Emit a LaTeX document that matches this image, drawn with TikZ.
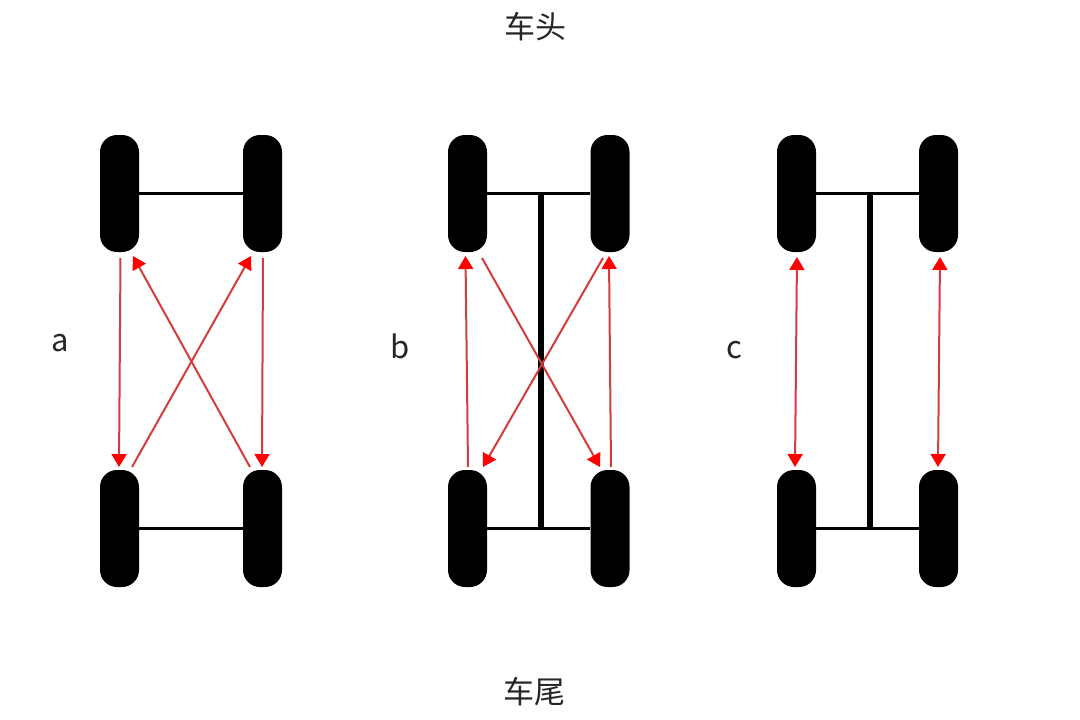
\documentclass[tikz,border=0pt]{standalone}
\usepackage{fontspec}
\setmainfont{Noto Sans CJK SC}
\usetikzlibrary{arrows.meta}
\definecolor{linkred}{RGB}{212,60,64}
\tikzset{
  wheel/.style={draw=none,fill=black,rectangle,minimum width=39pt,minimum height=117pt,inner sep=0pt,rounded corners=17pt},
  axle/.style={draw=black,line width=2.8pt},
  shaft/.style={draw=black,line width=5.5pt},
  link/.style={draw=linkred,line width=2pt,-{Triangle[width=15pt,length=13pt,color=red,fill=red]}},
  duallink/.style={draw=linkred,line width=2pt,{Triangle[width=15pt,length=13pt,color=red,fill=red]}-{Triangle[width=15pt,length=13pt,color=red,fill=red]}},
  lab/.style={inner sep=0pt,font=\fontsize{31pt}{34pt}\selectfont,text=black!85}
}
\begin{document}
\begin{tikzpicture}[x=1pt,y=-1pt]
\useasboundingbox (0,0) rectangle (1080,720);
\fill[white] (0,0) rectangle (1080,720);
% wheels
\node[wheel] (aFL) at (119.5,193.5) {};
\node[wheel] (aFR) at (262.5,193.5) {};
\node[wheel] (aRL) at (119.5,528.5) {};
\node[wheel] (aRR) at (262.5,528.5) {};
\node[wheel] (bFL) at (467.5,193.5) {};
\node[wheel] (bFR) at (610,193.5) {};
\node[wheel] (bRL) at (467.5,528.5) {};
\node[wheel] (bRR) at (610,528.5) {};
\node[wheel] (cFL) at (796.5,193.5) {};
\node[wheel] (cFR) at (938.5,193.5) {};
\node[wheel] (cRL) at (796.5,528.5) {};
\node[wheel] (cRR) at (938.5,528.5) {};
% axles
\draw[axle] (aFL.east) -- (aFR.west);
\draw[axle] (aRL.east) -- (aRR.west);
\draw[axle] (bFL.east) -- (bFR.west);
\draw[axle] (bRL.east) -- (bRR.west);
\draw[axle] (cFL.east) -- (cFR.west);
\draw[axle] (cRL.east) -- (cRR.west);
% shafts
\coordinate (bST) at (541,193.5);
\coordinate (bSB) at (541,528.5);
\coordinate (cST) at (870,193.5);
\coordinate (cSB) at (870,528.5);
\draw[shaft] (bST) -- (bSB);
\draw[shaft] (cST) -- (cSB);
% link ends: a
\coordinate (a1s) at (120.5,258); \coordinate (a1e) at (119,467);
\coordinate (a2s) at (250,467);   \coordinate (a2e) at (133,256);
\coordinate (a3s) at (132,467);   \coordinate (a3e) at (251,256);
\coordinate (a4s) at (263,258);   \coordinate (a4e) at (262,467);
\draw[link] (a1s) -- (a1e);
\draw[link] (a2s) -- (a2e);
\draw[link] (a3s) -- (a3e);
\draw[link] (a4s) -- (a4e);
% link ends: b
\coordinate (b1s) at (468,467);   \coordinate (b1e) at (465.5,256);
\coordinate (b2s) at (482,258);   \coordinate (b2e) at (600,467);
\coordinate (b3s) at (603,258);   \coordinate (b3e) at (483,467);
\coordinate (b4s) at (611,467);   \coordinate (b4e) at (609,256);
\draw[link] (b1s) -- (b1e);
\draw[link] (b2s) -- (b2e);
\draw[link] (b3s) -- (b3e);
\draw[link] (b4s) -- (b4e);
% link ends: c
\coordinate (c1s) at (797,257);   \coordinate (c1e) at (795,467);
\coordinate (c2s) at (940,257);   \coordinate (c2e) at (938,467);
\draw[duallink] (c1s) -- (c1e);
\draw[duallink] (c2s) -- (c2e);
% labels
\node[lab] (head) at (535,27) {车头};
\node[lab] (tail) at (534,692) {车尾};
\node[lab] (la) at (60.5,343) {a};
\node[lab] (lb) at (400,346) {b};
\node[lab] (lc) at (734,350) {c};
\end{tikzpicture}
\end{document}
